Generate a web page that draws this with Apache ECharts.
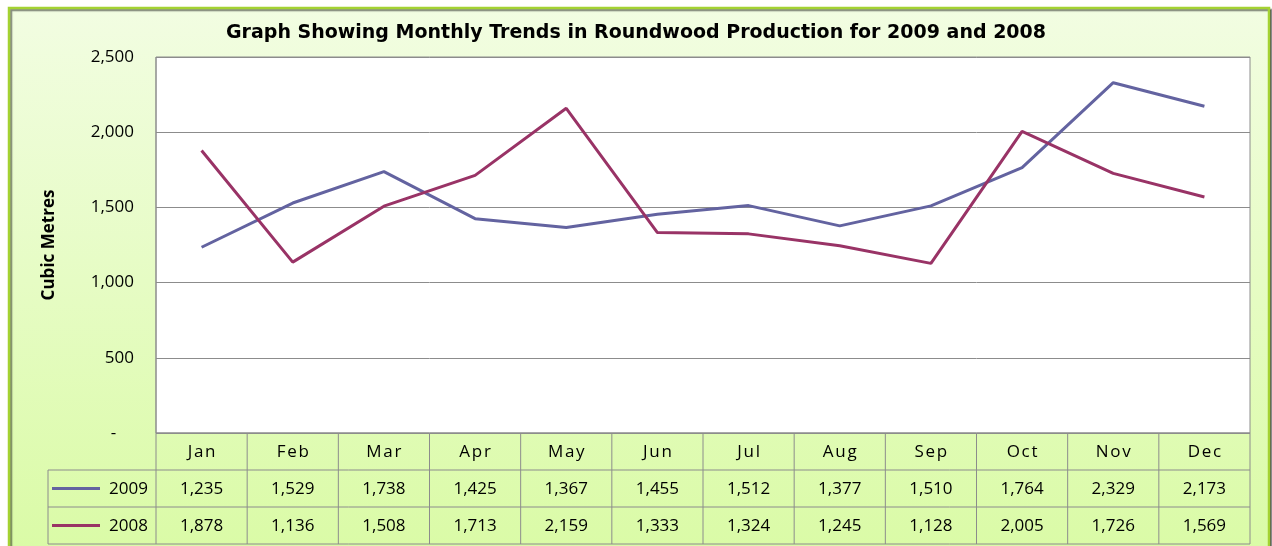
<!DOCTYPE html>
<html>
<head>
<meta charset="utf-8">
<script src="https://cdn.jsdelivr.net/npm/echarts@6/dist/echarts.min.js"></script>
<style>
  html, body { margin: 0; padding: 0; background: #ffffff; }
  #main { width: 1272px; height: 546px; }
</style>
</head>
<body>
<div id="main"></div>
<script>
const months = ["Jan", "Feb", "Mar", "Apr", "May", "Jun", "Jul", "Aug", "Sep", "Oct", "Nov", "Dec"];
const values2009 = [1235, 1529, 1738, 1425, 1367, 1455, 1512, 1377, 1510, 1764, 2329, 2173];
const values2008 = [1878, 1136, 1508, 1713, 2159, 1333, 1324, 1245, 1128, 2005, 1726, 1569];
const yTicks = [0, 500, 1000, 1500, 2000, 2500];

const COLOR_2009 = "#6363a0";
const COLOR_2008 = "#993366";
const LINE_GRAY = "#8c8c8c";
const FONT = "Open Sans";

// plot area, in pixels
const PLOT_LEFT = 156, PLOT_RIGHT = 1250, PLOT_TOP = 57, PLOT_BOTTOM = 433;
const ROW_H = 37, LEGEND_LEFT = 48;

function fmt(v) {
  if (v === 0) return "-    ";
  return v.toLocaleString("en-US");
}

function tableGraphics() {
  const els = [];
  const colW = (PLOT_RIGHT - PLOT_LEFT) / months.length;
  const rows = [
    { name: null, values: null },
    { name: "2009", color: COLOR_2009, values: values2009 },
    { name: "2008", color: COLOR_2008, values: values2008 }
  ];
  const tableBottom = PLOT_BOTTOM + ROW_H * rows.length;
  const line = (x1, y1, x2, y2) => els.push({
    type: "line", shape: { x1, y1, x2, y2 }, silent: true,
    style: { stroke: LINE_GRAY, lineWidth: 1 }
  });
  // horizontal lines
  line(PLOT_LEFT, PLOT_BOTTOM, PLOT_RIGHT, PLOT_BOTTOM);
  for (let r = 1; r <= rows.length; r++) {
    line(LEGEND_LEFT, PLOT_BOTTOM + ROW_H * r, PLOT_RIGHT, PLOT_BOTTOM + ROW_H * r);
  }
  // vertical lines
  line(LEGEND_LEFT, PLOT_BOTTOM + ROW_H, LEGEND_LEFT, tableBottom);
  for (let c = 0; c <= months.length; c++) {
    const x = PLOT_LEFT + colW * c;
    line(x, c === 0 ? PLOT_TOP : PLOT_BOTTOM, x, tableBottom);
  }
  // cells
  rows.forEach((row, r) => {
    const cy = PLOT_BOTTOM + ROW_H * r + ROW_H / 2;
    months.forEach((m, c) => {
      const cx = PLOT_LEFT + colW * (c + 0.5);
      const txt = r === 0 ? m.split("").join("\u200a") : row.values[c].toLocaleString("en-US");
      els.push({
        type: "text", x: cx, y: cy + 1, silent: true,
        style: { text: txt, fill: "#000", font: "17px '" + FONT + "'", align: "center", verticalAlign: "middle" }
      });
    });
    if (row.name) {
      els.push({
        type: "line", silent: true,
        shape: { x1: LEGEND_LEFT + 4, y1: cy, x2: LEGEND_LEFT + 52, y2: cy },
        style: { stroke: row.color, lineWidth: 3 }
      });
      els.push({
        type: "text", x: PLOT_LEFT - 8, y: cy + 1, silent: true,
        style: { text: row.name, fill: "#000", font: "17px '" + FONT + "'", align: "right", verticalAlign: "middle" }
      });
    }
  });
  return els;
}

const chart = echarts.init(document.getElementById("main"));
chart.setOption({
  backgroundColor: "#ffffff",
  animation: false,
  title: {
    text: "Graph Showing Monthly Trends in Roundwood Production for 2009 and 2008",
    left: "center",
    top: 19,
    textStyle: { fontFamily: "DejaVu Sans", fontWeight: "bold", fontSize: 19, color: "#000" }
  },
  grid: {
    left: PLOT_LEFT, top: PLOT_TOP,
    right: 1272 - PLOT_RIGHT, bottom: 546 - PLOT_BOTTOM,
    show: true, backgroundColor: "#ffffff", borderColor: LINE_GRAY, borderWidth: 1
  },
  xAxis: {
    type: "category",
    data: months,
    boundaryGap: true,
    axisLine: { show: false },
    axisTick: { show: false },
    axisLabel: { show: false },
    splitLine: { show: false }
  },
  yAxis: {
    type: "value",
    min: yTicks[0],
    max: yTicks[yTicks.length - 1],
    interval: yTicks[1] - yTicks[0],
    name: "Cubic Metres",
    nameLocation: "middle",
    nameRotate: 90,
    nameGap: 98,
    nameTextStyle: { fontFamily: FONT, fontWeight: "bold", fontSize: 17, color: "#000" },
    axisLine: { show: false },
    axisTick: { show: false },
    axisLabel: { formatter: fmt, margin: 22, fontFamily: FONT, fontSize: 17, color: "#000" },
    splitLine: { lineStyle: { color: LINE_GRAY, width: 1 } }
  },
  series: [
    {
      name: "2009", type: "line", data: values2009,
      symbol: "none", lineStyle: { color: COLOR_2009, width: 3 }, z: 3
    },
    {
      name: "2008", type: "line", data: values2008,
      symbol: "none", lineStyle: { color: COLOR_2008, width: 3 }, z: 3
    }
  ],
  graphic: [
    {
      type: "rect", z: -10, silent: true,
      shape: { x: 9, y: 8, width: 1260, height: 545 },
      style: {
        fill: new echarts.graphic.LinearGradient(0, 0, 0, 1, [
          { offset: 0, color: "#f2fde2" },
          { offset: 1, color: "#dafba6" }
        ]),
        stroke: "#a4d232", lineWidth: 2.5,
        shadowColor: "rgba(0,0,0,0.45)", shadowOffsetX: 2, shadowOffsetY: 2, shadowBlur: 1
      }
    }
  ].concat(tableGraphics())
});
</script>
</body>
</html>
